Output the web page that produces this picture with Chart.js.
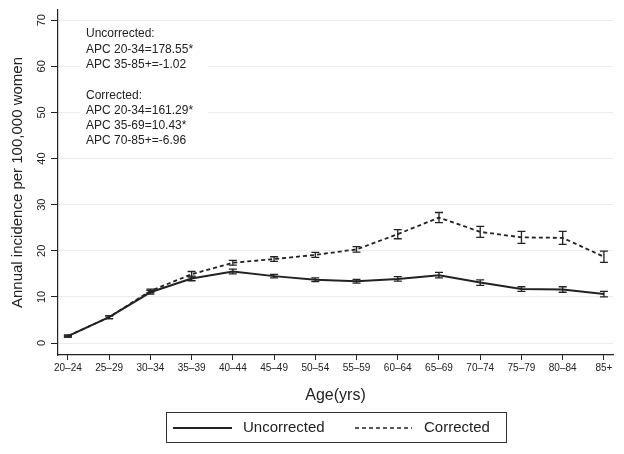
<!DOCTYPE html>
<html>
<head>
<meta charset="utf-8">
<script src="https://cdn.jsdelivr.net/npm/chart.js@4.4.1/dist/chart.umd.min.js"></script>
<style>
  html, body { margin: 0; padding: 0; background: #fff; }
  #wrap { width: 624px; height: 454px; position: relative; }
</style>
</head>
<body>
<div id="wrap"><canvas id="chart"></canvas></div>
<script>
// age groups on the x axis
const ageGroups = ["20–24", "25–29", "30–34", "35–39", "40–44", "45–49", "50–54",
  "55–59", "60–64", "65–69", "70–74", "75–79", "80–84", "85+"];

// incidence per 100,000 women
const uncorrected = [1.5, 5.6, 11.0, 14.0, 15.5, 14.5, 13.7, 13.4, 13.9, 14.7, 13.1, 11.7, 11.6, 10.6];
const uncorrectedErr = [0.2, 0.3, 0.4, 0.5, 0.5, 0.4, 0.4, 0.4, 0.5, 0.6, 0.6, 0.5, 0.6, 0.6];
const corrected = [1.5, 5.6, 11.3, 14.9, 17.4, 18.2, 19.1, 20.3, 23.6, 27.2, 24.1, 22.9, 22.8, 18.7];
const correctedErr = [0.2, 0.3, 0.4, 0.6, 0.5, 0.5, 0.55, 0.6, 1.0, 1.1, 1.2, 1.3, 1.4, 1.2];

const yTicks = [0, 10, 20, 30, 40, 50, 60, 70];

const notes = ["Uncorrected:", "APC 20-34=178.55*", "APC 35-85+=-1.02", "",
  "Corrected:", "APC 20-34=161.29*", "APC 35-69=10.43*", "APC 70-85+=-6.96"];

const FONT = "'Liberation Sans', Arial, Helvetica, sans-serif";

// error bars drawn from the scales
const errorBars = {
  id: "errorBars",
  afterDatasetsDraw(chart) {
    const ctx = chart.ctx;
    const x = chart.scales.x, y = chart.scales.y;
    const errs = [uncorrectedErr, correctedErr];
    const vals = [uncorrected, corrected];
    ctx.save();
    ctx.strokeStyle = "#222";
    ctx.lineWidth = 1.3;
    ctx.setLineDash([]);
    vals.forEach((series, d) => {
      series.forEach((v, i) => {
        const px = x.getPixelForValue(i);
        const top = y.getPixelForValue(v + errs[d][i]);
        const bot = y.getPixelForValue(v - errs[d][i]);
        ctx.beginPath();
        ctx.moveTo(px, top); ctx.lineTo(px, bot);
        ctx.moveTo(px - 4, top); ctx.lineTo(px + 4, top);
        ctx.moveTo(px - 4, bot); ctx.lineTo(px + 4, bot);
        ctx.stroke();
      });
    });
    ctx.restore();
  }
};

// rotated y tick labels, the note box and the framed legend
const extras = {
  id: "extras",
  afterDraw(chart) {
    const ctx = chart.ctx;
    const y = chart.scales.y;
    const area = chart.chartArea;
    ctx.save();
    ctx.fillStyle = "#222";
    ctx.font = "11px " + FONT;
    ctx.textAlign = "center";
    ctx.textBaseline = "alphabetic";
    yTicks.forEach((v) => {
      ctx.save();
      ctx.translate(45, y.getPixelForValue(v));
      ctx.rotate(-Math.PI / 2);
      ctx.fillText(String(v), 0, 0);
      ctx.restore();
    });

    // notes
    ctx.fillStyle = "#fff";
    ctx.fillRect(area.left + 22, area.top + 14, 128, 126);
    ctx.fillStyle = "#222";
    ctx.font = "12px " + FONT;
    ctx.textAlign = "left";
    ctx.textBaseline = "middle";
    notes.forEach((t, i) => {
      ctx.fillText(t, area.left + 28, area.top + 24 + i * 15.3);
    });

    // legend
    ctx.strokeStyle = "#333";
    ctx.lineWidth = 1;
    ctx.strokeRect(166.5, 412.5, 340, 30);
    ctx.strokeStyle = "#222";
    ctx.lineWidth = 1.8;
    ctx.beginPath();
    ctx.moveTo(173, 428); ctx.lineTo(232, 428);
    ctx.stroke();
    ctx.setLineDash([4, 3]);
    ctx.lineWidth = 1.5;
    ctx.beginPath();
    ctx.moveTo(355, 428); ctx.lineTo(412, 428);
    ctx.stroke();
    ctx.setLineDash([]);
    ctx.font = "15px " + FONT;
    ctx.fillText("Uncorrected", 243, 428);
    ctx.fillText("Corrected", 424, 428);
    ctx.restore();
  }
};

new Chart(document.getElementById("chart"), {
  type: "line",
  data: {
    datasets: [
      {
        label: "Uncorrected",
        data: uncorrected.map((v, i) => ({ x: i, y: v })),
        borderColor: "#222",
        borderWidth: 2,
        pointRadius: 0,
        tension: 0
      },
      {
        label: "Corrected",
        data: corrected.map((v, i) => ({ x: i, y: v })),
        borderColor: "#222",
        borderWidth: 1.8,
        borderDash: [4, 3],
        pointRadius: 0,
        tension: 0
      }
    ]
  },
  options: {
    responsive: true,
    maintainAspectRatio: false,
    animation: false,
    layout: { padding: { top: 10, right: 11, bottom: 49, left: 0 } },
    plugins: {
      legend: { display: false },
      tooltip: { enabled: false }
    },
    scales: {
      x: {
        type: "linear",
        min: -0.24,
        max: 13.22,
        afterBuildTicks: (scale) => { scale.ticks = ageGroups.map((_, i) => ({ value: i })); },
        afterFit: (scale) => { scale.height = 50; },
        ticks: {
          autoSkip: false,
          maxRotation: 0,
          padding: 2,
          color: "#222",
          font: { size: 10, family: FONT },
          callback: (v) => ageGroups[v]
        },
        grid: { drawOnChartArea: false, tickLength: 5, tickColor: "#222" },
        border: { color: "#222", width: 1.2 },
        title: {
          display: true,
          text: "Age(yrs)",
          color: "#222",
          font: { size: 16, family: FONT },
          padding: { top: 0, bottom: 0 }
        }
      },
      y: {
        min: -2.6,
        max: 72.2,
        afterBuildTicks: (scale) => { scale.ticks = yTicks.map((v) => ({ value: v })); },
        afterFit: (scale) => { scale.width = 58; },
        ticks: { color: "rgba(0,0,0,0)", font: { size: 11, family: FONT } },
        grid: { color: "#ececec", lineWidth: 1, tickLength: 7, tickColor: "#222" },
        border: { color: "#222", width: 1.2 },
        title: {
          display: true,
          text: "Annual incidence per 100,000 women",
          color: "#222",
          font: { size: 15, family: FONT },
          padding: { top: 9, bottom: 0 }
        }
      }
    }
  },
  plugins: [errorBars, extras]
});
</script>
</body>
</html>
